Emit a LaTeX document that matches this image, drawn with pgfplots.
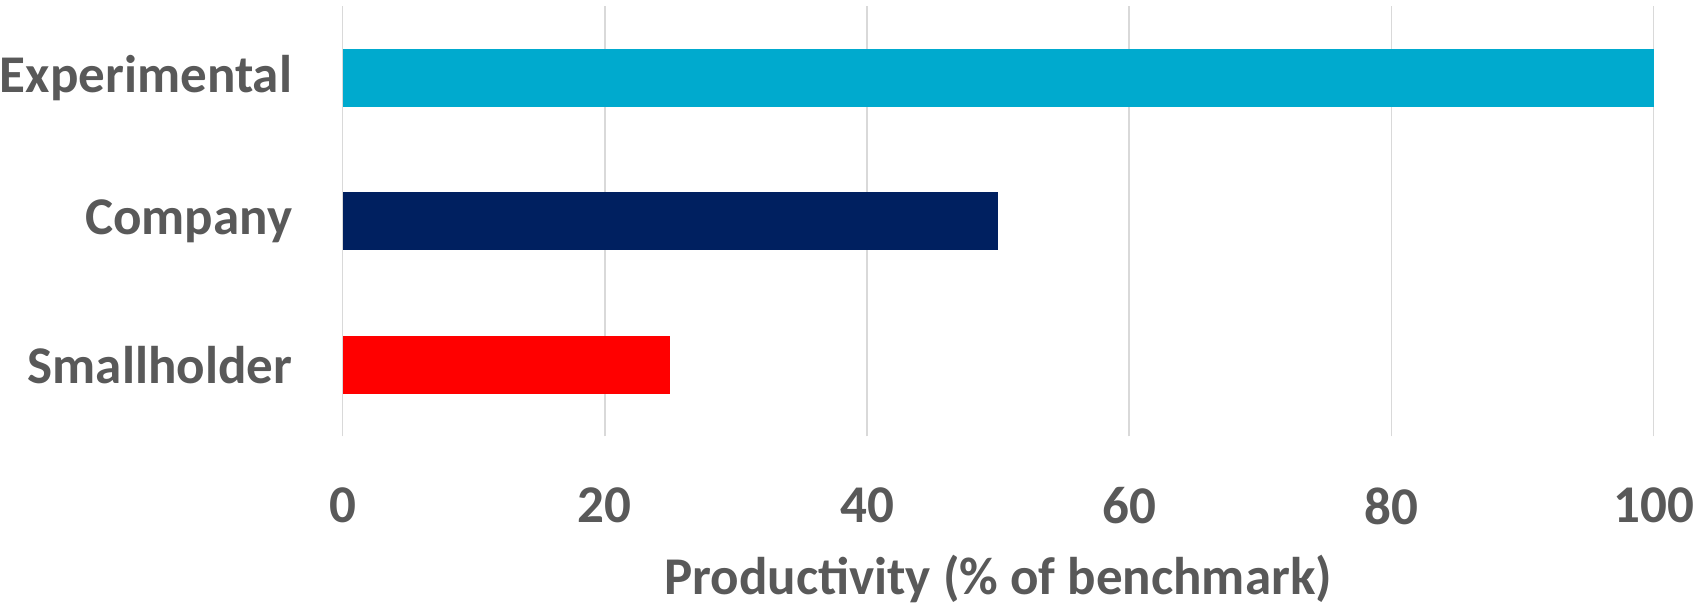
\documentclass[border=0pt]{standalone}
\usepackage{pgfplots}
\pgfplotsset{compat=1.18}
\usepackage{fontspec}
\setmainfont{Carlito}
\definecolor{txt}{HTML}{595959}
\definecolor{grid}{HTML}{D9D9D9}
\definecolor{cexp}{HTML}{00AACE}
\definecolor{ccomp}{HTML}{002060}
\definecolor{csmall}{HTML}{FF0000}
\begin{document}
\begin{tikzpicture}
\begin{axis}[
  scale only axis,
  width=655pt, height=215pt,
  xmin=0, xmax=100,
  ymin=-0.5, ymax=2.5,
  xbar, bar width=28.9pt,
  bar shift=0pt,
  axis line style={draw=none},
  major tick length=0pt,
  xtick={0,20,40,60,80,100},
  xticklabels={0,20,40,60,80,100},
  ytick={0,1,2},
  yticklabels={Smallholder,Company,Experimental},
  xmajorgrids, grid style={draw=grid, line width=0.8pt},
  ymajorgrids=false,
  xticklabel style={font=\fontsize{26.5}{31}\selectfont\bfseries, text=txt, inner sep=0pt, anchor=north, yshift=-25.5pt},
  yticklabel style={font=\fontsize{26.5}{31}\selectfont\bfseries, text=txt, inner sep=0pt, anchor=east, xshift=-25pt},
  xlabel={Productivity (\% of benchmark)},
  xlabel style={font=\fontsize{26.5}{31}\selectfont\bfseries, text=txt, inner xsep=0pt, inner ysep=1.8pt, at={(axis description cs:0.5,0)}, anchor=base, yshift=-79pt},
  clip=false,
]
\addplot[draw=none, fill=csmall] coordinates {(25,0)};
\addplot[draw=none, fill=ccomp] coordinates {(50,1)};
\addplot[draw=none, fill=cexp] coordinates {(100,2)};
\end{axis}
\path ([yshift=3pt]current axis.north);
\end{tikzpicture}
\end{document}
